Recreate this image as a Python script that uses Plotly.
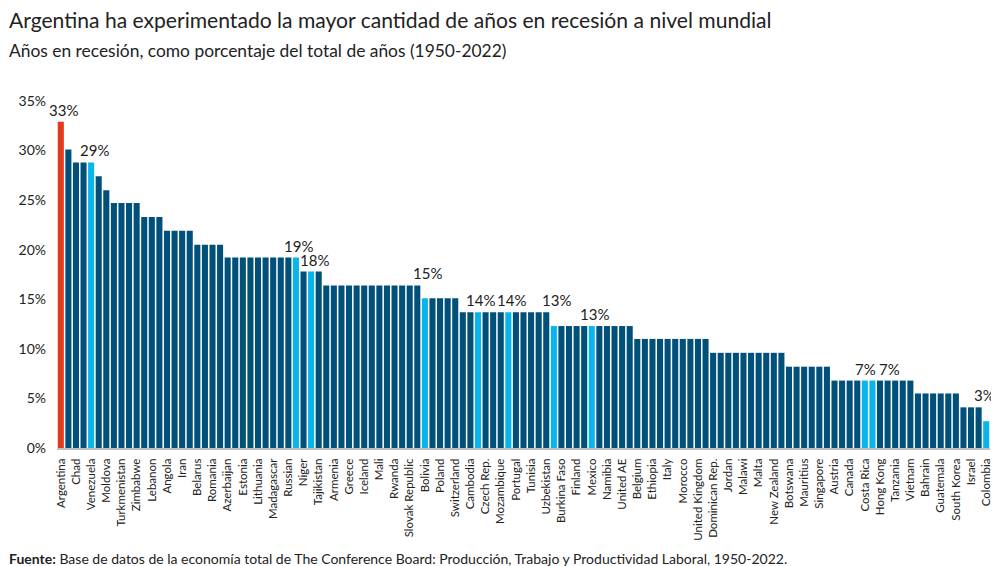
import plotly.graph_objects as go

# %% datos: años en recesión como % del total (1950-2022)
valores = [
    32.9, 30.1, 28.8, 28.8, 28.8, 27.4, 26.0,
    24.7, 24.7, 24.7, 24.7,
    23.3, 23.3, 23.3,
    21.9, 21.9, 21.9, 21.9,
    20.5, 20.5, 20.5, 20.5,
    19.2, 19.2, 19.2, 19.2, 19.2, 19.2, 19.2, 19.2, 19.2, 19.2,
    17.8, 17.8, 17.8,
    16.4, 16.4, 16.4, 16.4, 16.4, 16.4, 16.4, 16.4, 16.4, 16.4, 16.4, 16.4, 16.4,
    15.1, 15.1, 15.1, 15.1, 15.1,
    13.7, 13.7, 13.7, 13.7, 13.7, 13.7, 13.7, 13.7, 13.7, 13.7, 13.7, 13.7,
    12.3, 12.3, 12.3, 12.3, 12.3, 12.3, 12.3, 12.3, 12.3, 12.3, 12.3,
    11.0, 11.0, 11.0, 11.0, 11.0, 11.0, 11.0, 11.0, 11.0, 11.0,
    9.6, 9.6, 9.6, 9.6, 9.6, 9.6, 9.6, 9.6, 9.6, 9.6,
    8.2, 8.2, 8.2, 8.2, 8.2, 8.2,
    6.8, 6.8, 6.8, 6.8, 6.8, 6.8, 6.8, 6.8, 6.8, 6.8, 6.8,
    5.5, 5.5, 5.5, 5.5, 5.5, 5.5,
    4.1, 4.1, 4.1,
    2.7,
]

# solo se ve el nombre de un país de cada dos
paises = [
    "Argentina", "Chad", "Venezuela", "Moldova", "Turkmenistan", "Zimbabwe",
    "Lebanon", "Angola", "Iran", "Belarus", "Romania", "Azerbaijan", "Estonia",
    "Lithuania", "Madagascar", "Russian", "Niger", "Tajikistan", "Armenia",
    "Greece", "Iceland", "Mali", "Rwanda", "Slovak Republic", "Bolivia",
    "Poland", "Switzerland", "Cambodia", "Czech Rep.", "Mozambique", "Portugal",
    "Tunisia", "Uzbekistan", "Burkina Faso", "Finland", "Mexico", "Namibia",
    "United AE", "Belgium", "Ethiopia", "Italy", "Morocco", "United Kingdom",
    "Dominican Rep.", "Jordan", "Malawi", "Malta", "New Zealand", "Botswana",
    "Mauritius", "Singapore", "Austria", "Canada", "Costa Rica", "Hong Kong",
    "Tanzania", "Vietnam", "Bahrain", "Guatemala", "South Korea", "Israel",
    "Colombia",
]

barra_argentina = 1
barras_latam = [5, 32, 34, 49, 56, 60, 66, 71, 107, 108, 123]

etiquetas_pos = [1, 5, 32, 34, 49, 56, 60, 66, 71, 107, 108, 123]
etiquetas_txt = ["33%", "29%", "19%", "18%", "15%", "14%", "14%", "13%", "13%", "7%", "7%", "3%"]

ticks_y = [0, 5, 10, 15, 20, 25, 30, 35]

# %%
posiciones = list(range(1, len(valores) + 1))
colores = []
for p in posiciones:
    if p == barra_argentina:
        colores.append("#e2391f")
    elif p in barras_latam:
        colores.append("#0ab4ec")
    else:
        colores.append("#00507a")

fuente = "Lato"
gris = "#222222"

fig = go.Figure(go.Bar(x=posiciones, y=valores, marker_color=colores, marker_line_width=0))

# desplazamientos a mano para que no se pisen ni se corten
corrimiento = {107: 1, 108: 17, 123: -2}

# la etiqueta va por encima de la barra y de su vecina de la izquierda
for p, t in zip(etiquetas_pos, etiquetas_txt):
    altura = max(valores[max(p - 2, 0)], valores[p - 1])
    fig.add_annotation(
        x=p, y=altura, text=t, showarrow=False,
        yanchor="bottom", yshift=1, xshift=corrimiento.get(p, 3),
        font=dict(size=15, color=gris, family=fuente),
    )

# titulo, subtitulo y fuente (posiciones relativas al area del grafico)
fig.add_annotation(
    xref="paper", yref="paper", x=0, y=1, xshift=-50, yshift=77,
    xanchor="left", yanchor="middle", showarrow=False,
    text="Argentina ha experimentado la mayor cantidad de años en recesión a nivel mundial",
    font=dict(size=21.1, color=gris, family=fuente),
)
fig.add_annotation(
    xref="paper", yref="paper", x=0, y=1, xshift=-50, yshift=46,
    xanchor="left", yanchor="middle", showarrow=False,
    text="Años en recesión, como porcentaje del total de años (1950-2022)",
    font=dict(size=17.4, color=gris, family=fuente),
)
fig.add_annotation(
    xref="paper", yref="paper", x=0, y=0, xshift=-50, yshift=-110,
    xanchor="left", yanchor="middle", showarrow=False,
    text="<b>Fuente:</b> Base de datos de la economía total de The Conference Board: "
         "Producción, Trabajo y Productividad Laboral, 1950-2022.",
    font=dict(size=14, color=gris, family=fuente),
)

# la pagina html deja 8 px de margen, por eso 991x558
fig.update_layout(
    width=991, height=558,
    margin=dict(l=48.5, r=9, t=88, b=118, autoexpand=False),
    paper_bgcolor="white", plot_bgcolor="white",
    bargap=0.2, showlegend=False,
    font=dict(family=fuente, color=gris),
)
fig.update_xaxes(
    range=[0.5, len(valores) + 0.5], automargin=False,
    tickmode="array", tickvals=posiciones[::2], ticktext=paises,
    tickangle=-90, tickfont=dict(size=11.5, color=gris),
    showgrid=False, zeroline=False,
    showline=True, linecolor="#c0c0c0", linewidth=2,
    ticks="", ticklabelstandoff=4,
)
fig.update_yaxes(
    range=[0, 35.5], automargin=False,
    tickmode="array", tickvals=ticks_y, ticktext=[f"{v}%" for v in ticks_y],
    tickfont=dict(size=14, color=gris),
    showgrid=False, zeroline=False, showline=False, ticks="",
    ticklabelstandoff=10,
)

fig.write_html("out.html")
